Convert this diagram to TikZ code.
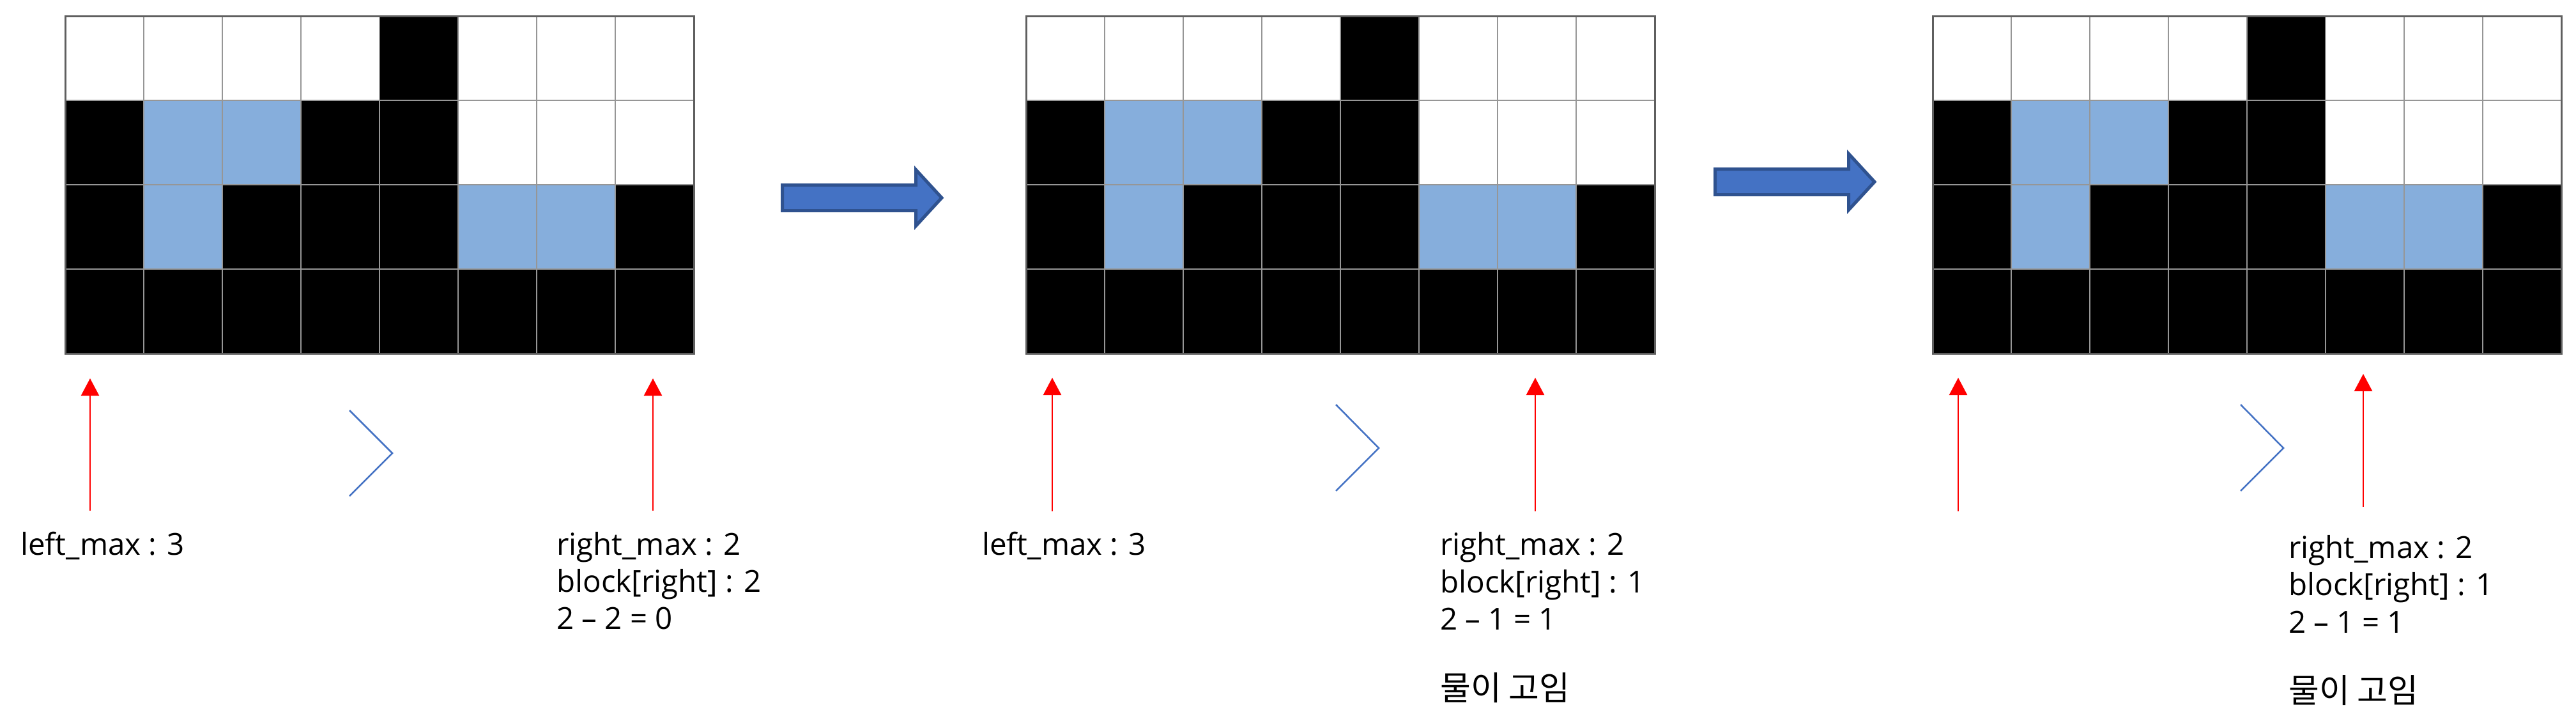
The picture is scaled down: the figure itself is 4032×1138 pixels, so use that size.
\documentclass[tikz,border=0pt]{standalone}
\usepackage{fontspec}
\setmainfont{Open Sans}
\newfontfamily\krfont{Noto Sans CJK KR}
\usetikzlibrary{arrows.meta}
\definecolor{cellblue}{RGB}{134,174,220}
\definecolor{arrfill}{RGB}{68,114,196}
\definecolor{arredge}{RGB}{47,82,143}
\definecolor{chevblue}{RGB}{68,114,196}
\definecolor{gridgray}{RGB}{150,150,150}
\definecolor{bordergray}{RGB}{95,95,95}
\tikzset{
  lbl/.style={anchor=base west, inner sep=0pt, font=\fontsize{47.5}{56}\selectfont},
  krlbl/.style={anchor=base west, inner sep=0pt, font=\krfont\fontsize{52}{60}\selectfont},
  redarr/.style={draw=red, line width=2.3pt, -{Triangle[length=27pt,width=28pt]}},
  chev/.style={draw=chevblue, line width=2.5pt},
  bigarrow/.style={fill=arrfill, draw=arredge, line width=5pt, line join=miter},
  gridline/.style={draw=gridgray, line width=2.5pt},
  gridborder/.style={draw=bordergray, line width=3pt},
}
\newcommand\mywatergrid[1]{%
  \begin{scope}[shift={#1}]
    \fill[white] (0,0) rectangle (984,528);
    \foreach \c/\r in {4/0, 0/1,3/1,4/1, 0/2,2/2,3/2,4/2,7/2, 0/3,1/3,2/3,3/3,4/3,5/3,6/3,7/3}
      \fill[black] (\c*123,\r*132) rectangle ++(123,132);
    \foreach \c/\r in {1/1,2/1,1/2,5/2,6/2}
      \fill[cellblue] (\c*123,\r*132) rectangle ++(123,132);
    \foreach \i in {1,...,7} \draw[gridline] (\i*123,0) -- (\i*123,528);
    \foreach \j in {1,2,3} \draw[gridline] (0,\j*132) -- (984,\j*132);
    \draw[gridborder] (0,0) rectangle (984,528);
  \end{scope}}
\begin{document}
\begin{tikzpicture}[x=1pt,y=-1pt]
  \useasboundingbox (0,0) rectangle (4032,1138);
  \fill[white] (0,0) rectangle (4032,1138);

  % grids
  \mywatergrid{(102,25)}
  \mywatergrid{(1606,25)}
  \mywatergrid{(3025,25)}

  % big arrows
  \draw[bigarrow] (1224.5,289.5) -- (1433.5,289.5) -- (1433.5,265.5) -- (1474,309.5)
     -- (1433.5,353.5) -- (1433.5,329.5) -- (1224.5,329.5) -- cycle;
  \draw[bigarrow] (2684.5,264.5) -- (2893.5,264.5) -- (2893.5,240.5) -- (2934,284.5)
     -- (2893.5,328.5) -- (2893.5,304.5) -- (2684.5,304.5) -- cycle;

  % chevrons
  \draw[chev] (547,642) -- (614,709) -- (547,776);
  \draw[chev] (2091,633) -- (2158,701) -- (2091,768);
  \draw[chev] (3507,633) -- (3574,701) -- (3507,768);

  % red arrows
  \coordinate (a1s) at (141,799);  \coordinate (a1e) at (141,592);
  \coordinate (a2s) at (1022,799); \coordinate (a2e) at (1022,592);
  \coordinate (a3s) at (1647,800); \coordinate (a3e) at (1647,591);
  \coordinate (a4s) at (2403,800); \coordinate (a4e) at (2403,591);
  \coordinate (a5s) at (3065,800); \coordinate (a5e) at (3065,591);
  \coordinate (a6s) at (3699,793); \coordinate (a6e) at (3699,585);
  \draw[redarr] (a1s) -- (a1e);
  \draw[redarr] (a2s) -- (a2e);
  \draw[redarr] (a3s) -- (a3e);
  \draw[redarr] (a4s) -- (a4e);
  \draw[redarr] (a5s) -- (a5e);
  \draw[redarr] (a6s) -- (a6e);

  % labels, panel 1
  \node[lbl] (l1) at (32,868) {left\_max : 3};
  \node[lbl] (r1a) at (871,868) {right\_max : 2};
  \node[lbl] (r1b) at (871,926) {block[right] : 2};
  \node[lbl] (r1c) at (871,984) {2 -- 2 = 0};
  % panel 2
  \node[lbl] (l2) at (1537,868) {left\_max : 3};
  \node[lbl] (r2a) at (2254,868) {right\_max : 2};
  \node[lbl] (r2b) at (2254,927) {block[right] : 1};
  \node[lbl] (r2c) at (2254,985) {2 -- 1 = 1};
  \node[krlbl] (k2) at (2254,1095) {물이 고임};
  % panel 3
  \node[lbl] (r3a) at (3582,873) {right\_max : 2};
  \node[lbl] (r3b) at (3582,931) {block[right] : 1};
  \node[lbl] (r3c) at (3582,990) {2 -- 1 = 1};
  \node[krlbl] (k3) at (3582,1099) {물이 고임};
\end{tikzpicture}
\end{document}
